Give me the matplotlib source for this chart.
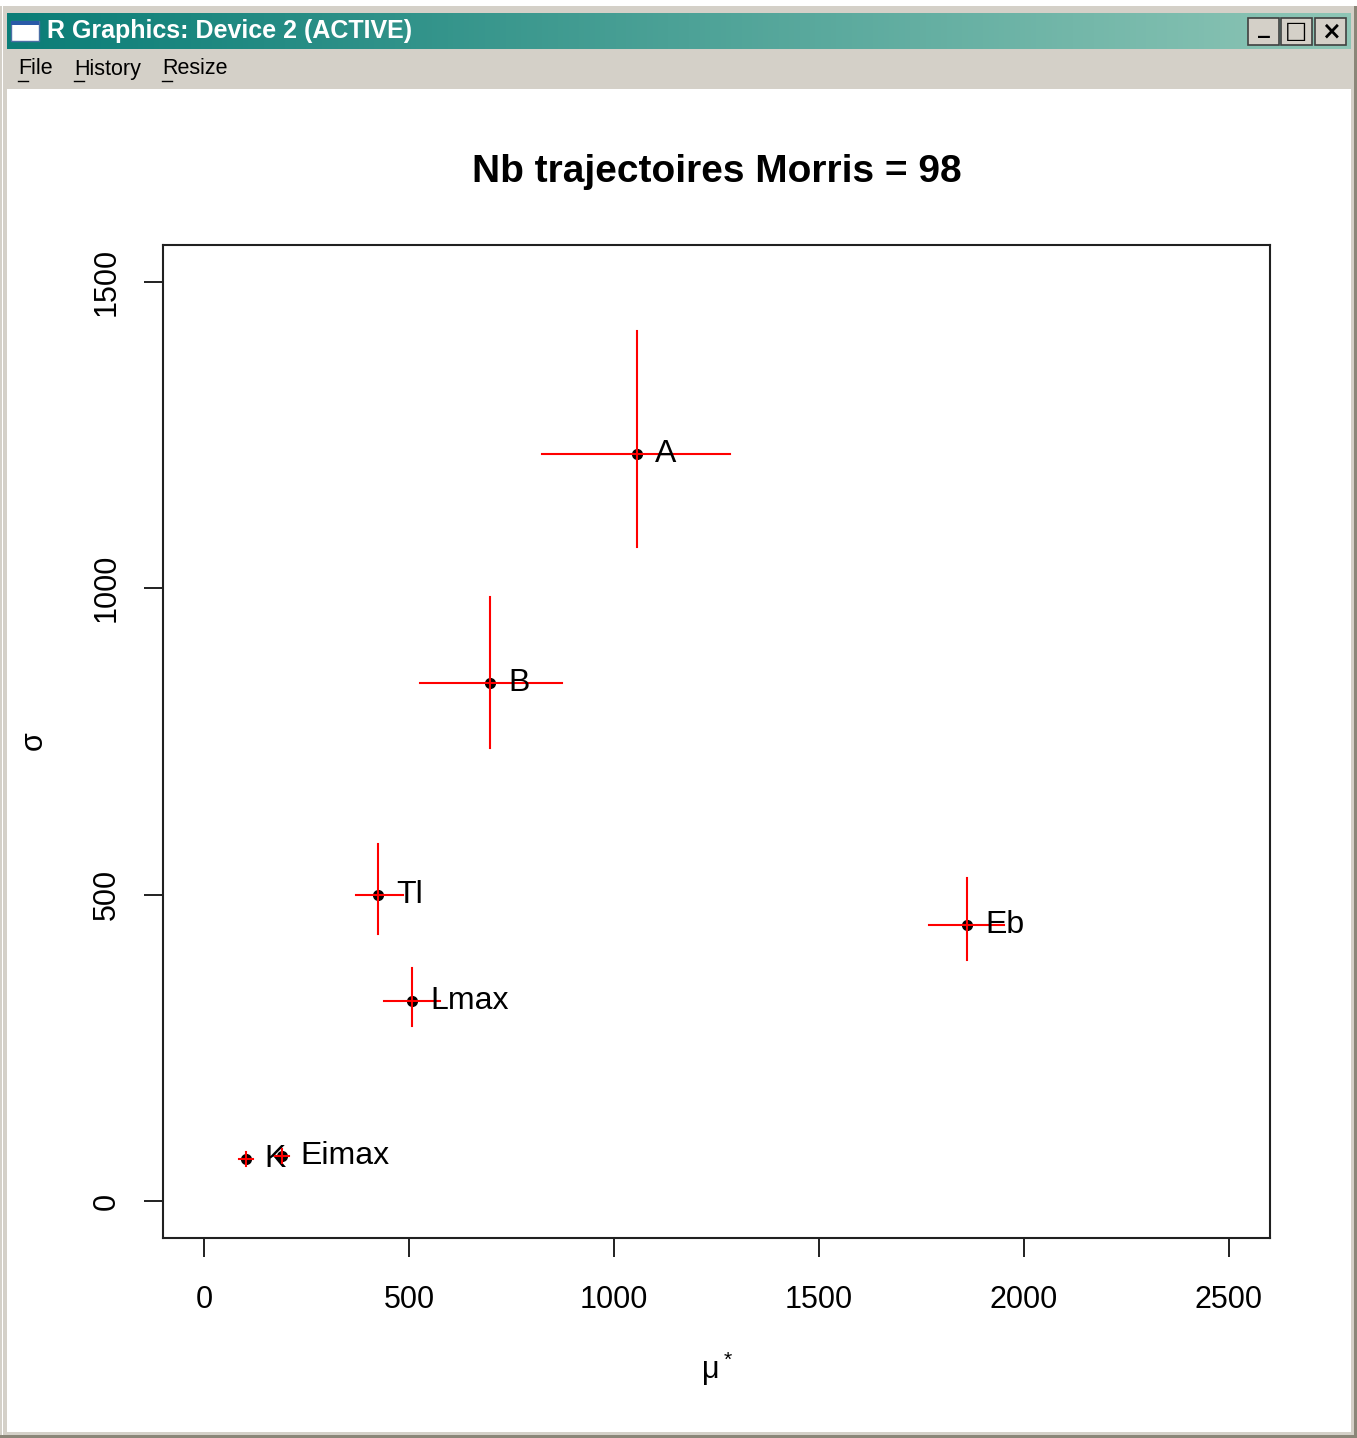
import numpy as np
import matplotlib.pyplot as plt
from matplotlib.patches import Rectangle

# --- data ---
names = ["A", "B", "Tl", "Lmax", "Eb", "K", "Eimax"]
mu_star = [1056, 698, 424, 507, 1861, 102, 190]
sigma = [1219, 846, 500, 327, 451, 69, 74]
mu_lo = [824, 527, 371, 439, 1768, 85, 173]
mu_hi = [1283, 873, 485, 576, 1951, 119, 207]
sig_lo = [1067, 740, 436, 286, 394, 58, 62]
sig_hi = [1420, 985, 583, 381, 528, 80, 86]

x_ticks = [0, 500, 1000, 1500, 2000, 2500]
y_ticks = [0, 500, 1000, 1500]
n_traj = 98

W, H = 1357, 1438
fig = plt.figure(figsize=(W / 100, H / 100), dpi=100)
fig.patch.set_facecolor("#d4d0c8")

# --- window chrome (pixel coordinates) ---
bg = fig.add_axes([0, 0, 1, 1])
bg.set_xlim(0, W)
bg.set_ylim(H, 0)
bg.axis("off")
bg.add_patch(Rectangle((0, 0), W, 6, color="white", lw=0))
bg.add_patch(Rectangle((2, 6), 1, H - 6, color="white", lw=0))
bg.add_patch(Rectangle((W - 3, 6), 3, H - 6, color="#8a8678", lw=0))
bg.add_patch(Rectangle((0, H - 3), W, 3, color="#8a8678", lw=0))
grad = np.linspace(0, 1, 256)[None, :]
bg.imshow(grad, extent=[7, W - 6, 49, 13], aspect="auto",
          cmap=plt.matplotlib.colors.LinearSegmentedColormap.from_list(
              "tb", ["#0a7d77", "#8ec6b6"]), zorder=1)
# icon
bg.add_patch(Rectangle((11, 21), 28, 20, facecolor="white", edgecolor="#4a6fa5", lw=1, zorder=2))
bg.add_patch(Rectangle((11, 21), 28, 4, facecolor="#2a5aa8", lw=0, zorder=3))
bg.text(47, 31, "R Graphics: Device 2 (ACTIVE)", color="white", fontsize=18,
        fontweight="bold", family="Liberation Sans", va="center", ha="left", zorder=3)
# buttons
for bx, sym in [(1248, "_"), (1281, "□"), (1315, "×")]:
    bg.add_patch(Rectangle((bx, 18), 31, 27, facecolor="#d4d0c8",
                           edgecolor="#404040", lw=1.2, zorder=3))
    bg.text(bx + 15.5, 31 if sym != "_" else 26, sym, ha="center", va="center",
            fontsize=17, fontweight="bold", color="black", zorder=4)
# menu
for mx, label in [(18, "File"), (74, "History"), (162, "Resize")]:
    bg.text(mx, 69, label, fontsize=15.5, family="Liberation Sans",
            va="center", ha="left", color="black")
    bg.plot([mx, mx + 10], [81, 81], color="black", lw=1)
# client area
bg.add_patch(Rectangle((7, 89), W - 13, H - 95, facecolor="white", lw=0, zorder=1))

# --- plot ---
ax = fig.add_axes([163 / W, 1 - 1238 / H, (1270 - 163) / W, (1238 - 245) / H])
ax.set_xlim(-100, 2600)
ax.set_ylim(-60, 1560)

ax.plot(mu_star, sigma, "o", color="black", ms=7, zorder=2)
for i in range(len(names)):
    ax.plot([mu_lo[i], mu_hi[i]], [sigma[i], sigma[i]], color="red", lw=1.5, zorder=3)
    ax.plot([mu_star[i], mu_star[i]], [sig_lo[i], sig_hi[i]], color="red", lw=1.5, zorder=3)
    ax.annotate(names[i], (mu_star[i], sigma[i]), xytext=(13, 0),
                textcoords="offset points", va="center", ha="left",
                fontsize=23, family="Liberation Sans", color="black")

ax.set_xticks(x_ticks)
ax.set_yticks(y_ticks)
ax.set_xticklabels([str(v) for v in x_ticks], fontsize=22, family="Liberation Sans")
ax.set_yticklabels([str(v) for v in y_ticks], fontsize=22, family="Liberation Sans",
                   rotation=90, va="center")
ax.tick_params(length=13.5, width=1.4, color="#202020")
ax.tick_params(axis="x", pad=20)
ax.tick_params(axis="y", pad=16)
for s in ax.spines.values():
    s.set_linewidth(1.5)
    s.set_color("#202020")

ax.set_title(f"Nb trajectoires Morris = {n_traj}", fontsize=28, fontweight="bold",
             family="Liberation Sans", pad=45)
ax.set_xlabel(r"$\mathregular{\mu^*}$", fontsize=22, family="Liberation Sans", labelpad=25)
ax.set_ylabel(r"$\mathregular{\sigma}$", fontsize=22, family="Liberation Sans", labelpad=30)

fig.savefig("out.png", dpi=100, facecolor=fig.get_facecolor())
